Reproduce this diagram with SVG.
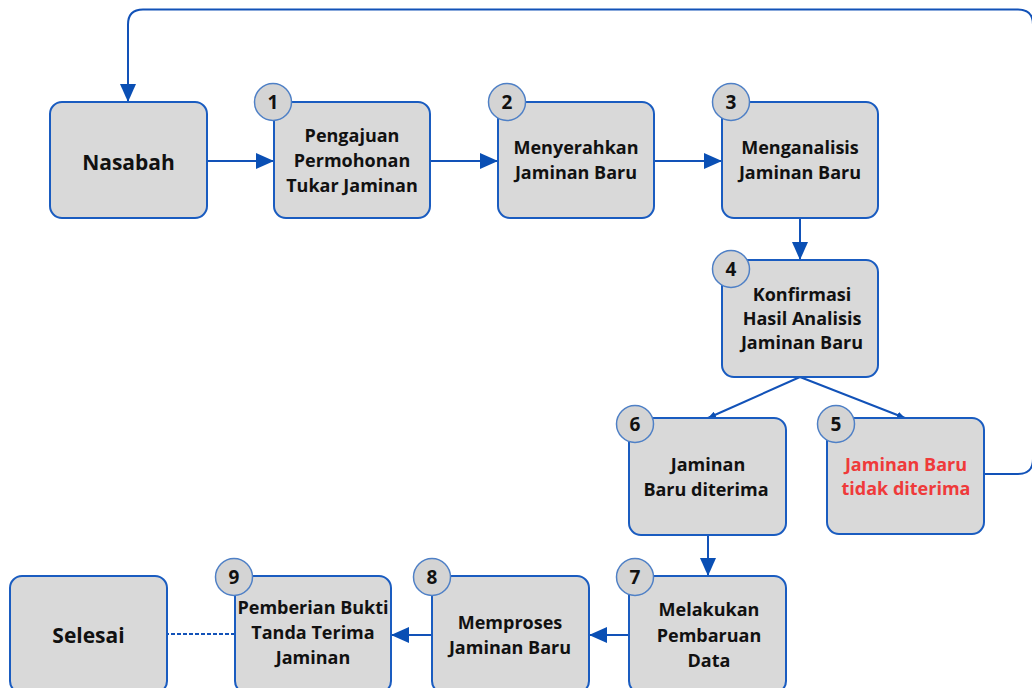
<svg xmlns="http://www.w3.org/2000/svg" width="1032" height="688" viewBox="0 0 1032 688">
<style>
.box{fill:#d9d9d9;stroke:#1a5cc0;stroke-width:2}
.num{fill:#d4d4d4;stroke:#4f80c6;stroke-width:1.5}
.t{font-family:"Open Sans","Noto Sans","DejaVu Sans",sans-serif;font-weight:700;font-size:18px;fill:#111;text-anchor:middle}
.big{font-size:21px}
.red{fill:#ef3a3a}
.n{font-size:19px}
.c{fill:none;stroke:#1252b8;stroke-width:2}
</style>
<defs>
<marker id="ah" markerUnits="userSpaceOnUse" markerWidth="18" markerHeight="16" refX="18" refY="8" orient="auto"><path d="M0,0 L18,8 L0,16 z" fill="#0a4fb4"/></marker>
<marker id="as" markerUnits="userSpaceOnUse" markerWidth="8" markerHeight="7" refX="8" refY="3.5" orient="auto"><path d="M0,0 L8,3.5 L0,7 z" fill="#0a4fb4"/></marker>
</defs>
<rect width="1032" height="688" fill="#ffffff"/>
<g id="connectors">
<path class="c" d="M207,161 H274" marker-end="url(#ah)"/>
<path class="c" d="M430,161 H498" marker-end="url(#ah)"/>
<path class="c" d="M654,161 H722" marker-end="url(#ah)"/>
<path class="c" d="M800,218 V260" marker-end="url(#ah)"/>
<path class="c" d="M800,377 L708,418" stroke-width="1.8" marker-end="url(#as)"/>
<path class="c" d="M800,377 L905,418" stroke-width="1.8" marker-end="url(#as)"/>
<path class="c" d="M708,535 V576" marker-end="url(#ah)"/>
<path class="c" d="M629,635 H589" marker-end="url(#ah)"/>
<path class="c" d="M432,635 H391" marker-end="url(#ah)"/>
<path class="c" d="M235,634 H167" stroke-dasharray="4,2" stroke-width="1.6"/>
<path class="c" d="M984,474 H1018 Q1033,474 1033,459 V24.5 Q1033,9.5 1018,9.5 H143 Q128,9.5 128,24.5 V102" marker-end="url(#ah)"/>
</g>
<g id="nasabah">
<rect class="box" x="50" y="102" width="157" height="116" rx="12"/>
<text class="t big" x="128.5" y="170">Nasabah</text>
</g>
<g id="node1">
<rect class="box" x="274" y="102" width="156" height="116" rx="12"/>
<circle class="num" cx="273" cy="102" r="18.5"/>
<text class="t n" x="273" y="109">1</text>
<text class="t" x="352" y="142">Pengajuan</text>
<text class="t" x="352" y="167">Permohonan</text>
<text class="t" x="352" y="192">Tukar Jaminan</text>
</g>
<g id="node2">
<rect class="box" x="498" y="102" width="156" height="116" rx="12"/>
<circle class="num" cx="507" cy="102" r="18.5"/>
<text class="t n" x="507" y="109">2</text>
<text class="t" x="576" y="154">Menyerahkan</text>
<text class="t" x="576" y="179">Jaminan Baru</text>
</g>
<g id="node3">
<rect class="box" x="722" y="102" width="156" height="116" rx="12"/>
<circle class="num" cx="731" cy="102" r="18.5"/>
<text class="t n" x="731" y="109">3</text>
<text class="t" x="800" y="154">Menganalisis</text>
<text class="t" x="800" y="179">Jaminan Baru</text>
</g>
<g id="node4">
<rect class="box" x="722" y="260" width="156" height="117" rx="12"/>
<circle class="num" cx="731" cy="269" r="18.5"/>
<text class="t n" x="731" y="276">4</text>
<text class="t" x="802" y="301">Konfirmasi</text>
<text class="t" x="802" y="325">Hasil Analisis</text>
<text class="t" x="802" y="349">Jaminan Baru</text>
</g>
<g id="node5">
<rect class="box" x="827" y="418" width="157" height="116" rx="12"/>
<circle class="num" cx="836" cy="424" r="18.5"/>
<text class="t n" x="836" y="431">5</text>
<text class="t red" x="906" y="471">Jaminan Baru</text>
<text class="t red" x="906" y="495">tidak diterima</text>
</g>
<g id="node6">
<rect class="box" x="629" y="418" width="157" height="117" rx="12"/>
<circle class="num" cx="635" cy="424" r="18.5"/>
<text class="t n" x="635" y="431">6</text>
<text class="t" x="708" y="471">Jaminan</text>
<text class="t" x="706" y="496">Baru diterima</text>
</g>
<g id="node7">
<rect class="box" x="629" y="576" width="157" height="117" rx="12"/>
<circle class="num" cx="635" cy="577" r="18.5"/>
<text class="t n" x="635" y="584">7</text>
<text class="t" x="709" y="616">Melakukan</text>
<text class="t" x="709" y="642">Pembaruan</text>
<text class="t" x="709" y="667">Data</text>
</g>
<g id="node8">
<rect class="box" x="432" y="576" width="157" height="117" rx="12"/>
<circle class="num" cx="432" cy="577" r="18.5"/>
<text class="t n" x="432" y="584">8</text>
<text class="t" x="510" y="629">Memproses</text>
<text class="t" x="510" y="654">Jaminan Baru</text>
</g>
<g id="node9">
<rect class="box" x="235" y="576" width="156" height="117" rx="12"/>
<circle class="num" cx="234" cy="577" r="18.5"/>
<text class="t n" x="234" y="584">9</text>
<text class="t" x="313" y="614">Pemberian Bukti</text>
<text class="t" x="313" y="639">Tanda Terima</text>
<text class="t" x="313" y="664">Jaminan</text>
</g>
<g id="selesai">
<rect class="box" x="10" y="576" width="157" height="117" rx="12"/>
<text class="t big" x="88.5" y="643">Selesai</text>
</g>
</svg>
